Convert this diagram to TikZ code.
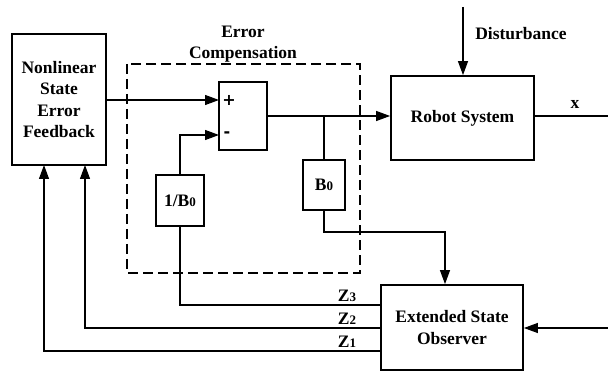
\documentclass[tikz,border=0pt]{standalone}
\usepackage{fontspec}
\setmainfont{Liberation Serif}
\newfontfamily\symfont{DejaVu Sans}
\usetikzlibrary{arrows.meta,calc}
\newcommand\subd[1]{{\fontsize{13}{13}\selectfont #1}}
\begin{document}
\begin{tikzpicture}[x=1pt,y=-1pt,
  font=\fontsize{17.5}{21.5}\selectfont\bfseries,
  blk/.style={draw,line width=1.8pt,rectangle,inner sep=0pt,align=center},
  conn/.style={line width=1.2pt},
  arr/.style={conn,-{Triangle[length=14pt,width=10pt]}},
  lbl/.style={inner sep=0pt,align=center},
  sym/.style={inner sep=0pt,font=\symfont\fontsize{16}{16}\selectfont\bfseries}]
\useasboundingbox (0,0) rectangle (608,374);
% dashed compensation box
\draw[line width=1.3pt,dash pattern=on 10pt off 5pt] (127,64) rectangle (360,273);
\node[lbl] (errlbl) at (243,44) {Error\\Compensation};
% blocks
\node[blk,minimum width=94pt,minimum height=131pt] (nsef) at (59,99.5) {Nonlinear\\State\\Error\\Feedback};
\node[blk,minimum width=48pt,minimum height=68pt] (sum) at (243,116) {};
\node[sym] (plus) at (229,100) {+};
\node[sym] (minus) at (227,135) {-};
\node[blk,minimum width=143pt,minimum height=84pt] (robot) at (462.5,118) {Robot System};
\node[blk,minimum width=42pt,minimum height=50pt] (b0) at (324,185) {B\subd{0}};
\node[blk,minimum width=48pt,minimum height=51pt] (inv) at (180,200.5) {1/B\subd{0}};
\node[blk,minimum width=142pt,minimum height=85pt] (eso) at (452,327.5) {Extended State\\Observer};
% coordinates
\coordinate (plusin) at (219,100);
\coordinate (minusin) at (219,135);
\coordinate (br) at (324,116);
\coordinate (b0turn) at (445,232);
\coordinate (dist) at (463,7);
\coordinate (xout) at (608,116);
\coordinate (esoin) at (608,328);
\coordinate (z3) at (381,305);
\coordinate (z2) at (381,328);
\coordinate (z1) at (381,351);
\coordinate (z2up) at (85,165);
\coordinate (z1up) at (44,165);
% connectors
\draw[arr] (nsef.east |- plusin) -- (plusin);
\draw[arr] (inv.north) |- (minusin);
\draw[arr] (sum.east) -- (sum.east -| robot.west);
\draw[conn] (br) -- (b0.north);
\draw[arr] (b0.south) |- (b0turn) -- (b0turn |- eso.north);
\draw[arr] (dist) -- (dist |- robot.north);
\draw[conn] (sum.east -| robot.east) -- (xout);
\draw[arr] (esoin) -- (esoin -| eso.east);
\draw[conn] (inv.south) |- (z3);
\draw[arr] (z2) -| (z2up);
\draw[arr] (z1) -| (z1up);
% labels
\node[lbl] (distlbl) at (521,34) {Disturbance};
\node[lbl] (xlbl) at (575,104) {x};
\node[lbl] (z3lbl) at (347,296) {Z\subd{3}};
\node[lbl] (z2lbl) at (347,319) {Z\subd{2}};
\node[lbl] (z1lbl) at (347,342) {Z\subd{1}};
\end{tikzpicture}
\end{document}
